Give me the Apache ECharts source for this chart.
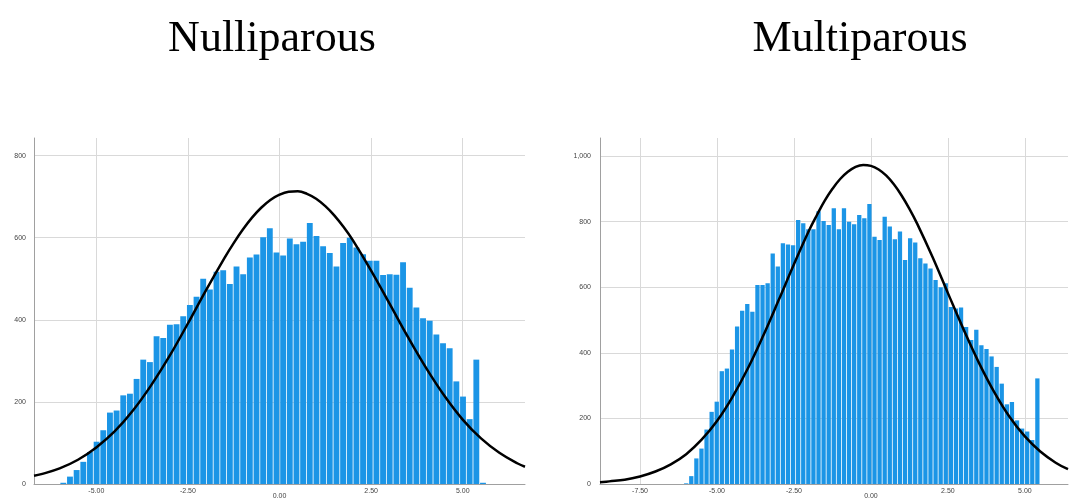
<!DOCTYPE html>
<html>
<head>
<meta charset="utf-8">
<script src="https://cdn.jsdelivr.net/npm/echarts@6/dist/echarts.min.js"></script>
<style>
html, body { margin: 0; padding: 0; background: #fff; }
#main { width: 1070px; height: 500px; }
</style>
</head>
<body>
<div id="main"></div>
<script>
// 直方图：第一个分箱左边界、分箱宽度、每箱计数
const nulliBinStart = -5.98
const nulliBinWidth = 0.1818
const nulliCounts = [
  3, 18, 34, 54, 78, 103, 131, 174, 179, 216,
  220, 256, 303, 297, 360, 356, 388, 389, 409, 436,
  456, 500, 474, 517, 521, 487, 530, 511, 552, 559,
  601, 623, 564, 557, 598, 584, 590, 636, 604, 579,
  563, 530, 587, 600, 576, 560, 544, 544, 509, 511,
  510, 540, 478, 430, 404, 398, 364, 343, 331, 250,
  213, 158, 303, 3
]
const multiBinStart = -6.07
const multiBinWidth = 0.1653
const multiCounts = [
  2, 24, 78, 108, 166, 220, 251, 344, 352, 410,
  480, 528, 549, 525, 607, 607, 612, 703, 663, 734,
  730, 728, 805, 795, 777, 777, 832, 802, 790, 841,
  777, 841, 800, 792, 820, 810, 854, 754, 744, 815,
  785, 746, 770, 683, 749, 736, 688, 672, 657, 622,
  600, 612, 540, 535, 538, 479, 439, 470, 423, 412,
  389, 357, 306, 243, 250, 194, 169, 160, 134, 322
]

// 正态曲线（从图上读取的点）
const nulliCurveX = [-6.7, -6.5, -6, -5.5, -5, -4.5, -4, -3.5, -3, -2.5, -2, -1.5, -1.25, -1, -0.75, -0.5, -0.25, 0, 0.25, 0.5, 0.75, 1, 1.25, 1.5, 1.75, 2, 2.5, 3, 3.5, 4, 4.5, 5, 5.5, 6, 6.5, 6.7]
const nulliCurveY = [20, 24, 38, 59, 89, 128, 179, 241, 312, 391, 473, 551, 587, 620, 649, 673, 692, 705, 712, 713, 707, 695, 677, 654, 626, 594, 520, 440, 359, 283, 215, 157, 111, 76, 50, 42]
const multiCurveX = [-8.8, -8.5, -8, -7.5, -7, -6.5, -6, -5.5, -5, -4.5, -4, -3.5, -3, -2.5, -2, -1.75, -1.5, -1.25, -1, -0.75, -0.5, -0.25, 0, 0.25, 0.5, 0.75, 1, 1.25, 1.5, 2, 2.5, 3, 3.5, 4, 4.5, 5, 5.5, 6, 6.4]
const multiCurveY = [5, 8, 13, 23, 38, 60, 91, 135, 192, 265, 352, 452, 560, 670, 775, 821, 864, 900, 930, 952, 967, 973, 970, 959, 940, 913, 879, 839, 794, 692, 582, 473, 371, 281, 205, 145, 99, 65, 45]

// 刻度
const nulliXTicks = [-5, -2.5, 0, 2.5, 5]
const multiXTicks = [-7.5, -5, -2.5, 0, 2.5, 5]
const nulliYTicks = [0, 200, 400, 600, 800]
const multiYTicks = [0, 200, 400, 600, 800, 1000]
const titles = ['Nulliparous', 'Multiparous']

const barColor = '#1b95e6'
const gridColor = '#d9d9d9'
const axisColor = '#a0a0a0'
const labelColor = '#444'

function toBins (start, width, counts) {
  return counts.map((c, i) => [start + i * width, start + (i + 1) * width, c])
}
function toPoints (xs, ys) {
  return xs.map((x, i) => [x, ys[i]])
}

function renderBin (params, api) {
  const p0 = api.coord([api.value(0), api.value(2)])
  const p1 = api.coord([api.value(1), 0])
  return {
    type: 'rect',
    shape: { x: p0[0], y: p0[1], width: p1[0] - p0[0] - 0.8, height: p1[1] - p0[1] },
    style: { fill: barColor }
  }
}

function xAxisOf (gridIndex, min, max, ticks) {
  return {
    type: 'value',
    gridIndex: gridIndex,
    min: min,
    max: max,
    axisLine: { show: true, onZero: false, lineStyle: { color: axisColor, width: 1 } },
    axisTick: { show: false, customValues: ticks },
    splitLine: { show: true, lineStyle: { color: gridColor, width: 1 } },
    axisLabel: {
      customValues: ticks,
      margin: 4,
      fontSize: 7,
      color: labelColor,
      fontFamily: 'Liberation Sans',
      formatter: function (v) {
        const s = v.toFixed(2)
        return v === 0 ? '{low|' + s + '}' : s
      },
      rich: { low: { padding: [5, 0, 0, 0], fontSize: 7, color: labelColor, fontFamily: 'Liberation Sans' } }
    }
  }
}

function yAxisOf (gridIndex, max, ticks, margin) {
  return {
    type: 'value',
    gridIndex: gridIndex,
    min: 0,
    max: max,
    axisLine: { show: true, onZero: false, lineStyle: { color: axisColor, width: 1 } },
    axisTick: { show: false, customValues: ticks },
    splitLine: { show: true, lineStyle: { color: gridColor, width: 1 } },
    axisLabel: {
      customValues: ticks,
      margin: margin,
      fontSize: 7,
      color: labelColor,
      fontFamily: 'Liberation Sans',
      formatter: function (v) { return v.toLocaleString('en-US') }
    }
  }
}

const myChart = echarts.init(document.getElementById('main'))
myChart.setOption({
  animation: false,
  title: [
    { text: titles[0], left: 267, top: 12, textAlign: 'center',
      textStyle: { fontFamily: 'Liberation Serif', fontSize: 44, fontWeight: 'normal', color: '#000' } },
    { text: titles[1], left: 855, top: 12, textAlign: 'center',
      textStyle: { fontFamily: 'Liberation Serif', fontSize: 44, fontWeight: 'normal', color: '#000' } }
  ],
  grid: [
    { left: 34, top: 138, width: 491, height: 347 },
    { left: 600, top: 138, width: 468, height: 346 }
  ],
  xAxis: [
    xAxisOf(0, -6.7, 6.7, nulliXTicks),
    xAxisOf(1, -8.8, 6.4, multiXTicks)
  ],
  yAxis: [
    yAxisOf(0, 843, nulliYTicks, 8),
    yAxisOf(1, 1055, multiYTicks, 9)
  ],
  series: [
    {
      type: 'custom', xAxisIndex: 0, yAxisIndex: 0, clip: true,
      renderItem: renderBin, encode: { x: [0, 1], y: 2 },
      data: toBins(nulliBinStart, nulliBinWidth, nulliCounts)
    },
    {
      type: 'custom', xAxisIndex: 1, yAxisIndex: 1, clip: true,
      renderItem: renderBin, encode: { x: [0, 1], y: 2 },
      data: toBins(multiBinStart, multiBinWidth, multiCounts)
    },
    {
      type: 'line', xAxisIndex: 0, yAxisIndex: 0, smooth: 0.4, showSymbol: false, z: 5,
      lineStyle: { color: '#000', width: 2.5 },
      data: toPoints(nulliCurveX, nulliCurveY)
    },
    {
      type: 'line', xAxisIndex: 1, yAxisIndex: 1, smooth: 0.4, showSymbol: false, z: 5,
      lineStyle: { color: '#000', width: 2.5 },
      data: toPoints(multiCurveX, multiCurveY)
    }
  ]
})
</script>
</body>
</html>
